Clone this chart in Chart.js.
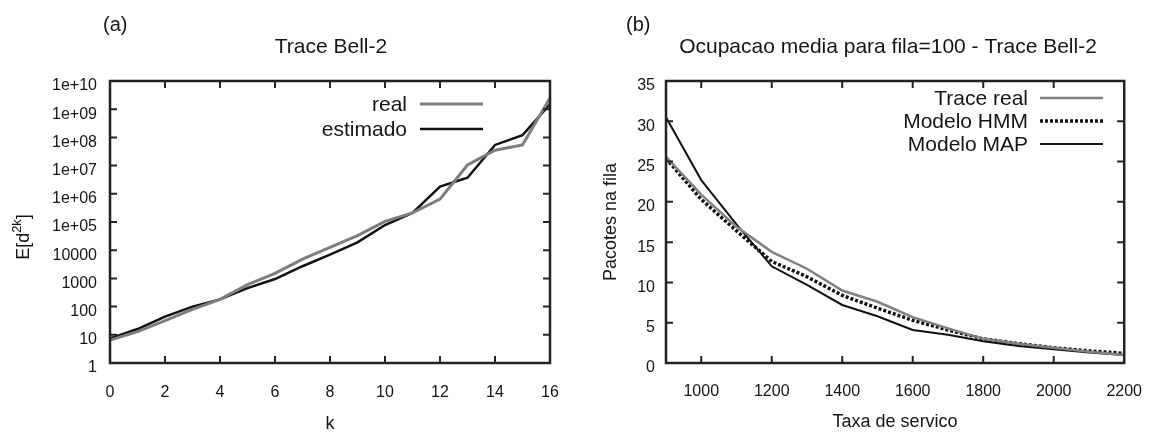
<!DOCTYPE html>
<html>
<head>
<meta charset="utf-8">
<script src="https://cdn.jsdelivr.net/npm/chart.js@4.4.1/dist/chart.umd.min.js"></script>
<style>
html, body { margin: 0; padding: 0; background: #fff; }
#wrap { position: relative; width: 1161px; height: 435px; overflow: hidden; }
#chartA { position: absolute; left: 0; top: 0; }
#chartB { position: absolute; left: 580px; top: 0; }
</style>
</head>
<body>
<div id="wrap">
  <canvas id="chartA" width="580" height="435"></canvas>
  <canvas id="chartB" width="581" height="435"></canvas>
</div>
<script>
// (a) moments E[d^2k] against k
const kValues = [0, 1, 2, 3, 4, 5, 6, 7, 8, 9, 10, 11, 12, 13, 14, 15, 16];
const momentReal = [6.5, 13, 32, 80, 180, 600, 1500, 4800, 12500, 33000, 105000, 210000, 650000, 1.05e7, 3.5e7, 5.4e7, 2.5e9];
const momentEstimado = [7.5, 16, 44, 100, 180, 450, 950, 2700, 7000, 19000, 78000, 210000, 1.8e6, 3.7e6, 5.4e7, 1.2e8, 1.5e9];
const kTicks = [0, 2, 4, 6, 8, 10, 12, 14, 16];
const momentTicks = [1, 10, 100, 1000, 10000, 1e5, 1e6, 1e7, 1e8, 1e9, 1e10];
const momentTickLabels = ["1", "10", "100", "1000", "10000", "1e+05", "1e+06", "1e+07", "1e+08", "1e+09", "1e+10"];

// (b) mean queue occupancy against service rate
const serviceRates = [900, 1000, 1100, 1200, 1300, 1400, 1500, 1600, 1700, 1800, 1900, 2000, 2100, 2200];
const queueReal = [25.6, 20.9, 16.9, 13.8, 11.7, 9.0, 7.6, 5.7, 4.3, 3.0, 2.4, 1.9, 1.4, 1.0];
const queueHMM = [25.4, 20.3, 16.4, 12.6, 10.7, 8.4, 6.8, 5.3, 4.1, 3.0, 2.4, 1.9, 1.5, 1.2];
const queueMAP = [30.5, 22.7, 17.2, 12.0, 9.7, 7.2, 5.8, 4.1, 3.5, 2.7, 2.1, 1.7, 1.3, 1.0];
const rateTicks = [1000, 1200, 1400, 1600, 1800, 2000, 2200];
const queueTicks = [0, 5, 10, 15, 20, 25, 30, 35];

const FONT = '"Liberation Sans", Arial, Helvetica, sans-serif';
const INK = "#151515";
Chart.defaults.font.family = FONT;
Chart.defaults.color = INK;

function pairs(xs, ys) {
    return xs.map((x, i) => ({ x: x, y: ys[i] }));
}

function fixedTicks(values) {
    return scale => { scale.ticks = values.map(v => ({ value: v })); };
}

// gnuplot-like frame, inward mirrored ticks, key and titles
const gnuplotLook = {
    id: "gnuplotLook",
    afterDatasetsDraw(chart, args, opts) {
        const { ctx, chartArea: a } = chart;
        const sx = chart.scales.x, sy = chart.scales.y;
        ctx.save();
        ctx.strokeStyle = "#222";
        ctx.lineWidth = 2;
        ctx.beginPath();
        sx.ticks.forEach(t => {
            const p = sx.getPixelForValue(t.value);
            if (p < a.left + 2 || p > a.right - 2) return;
            ctx.moveTo(p, a.bottom); ctx.lineTo(p, a.bottom - 7);
            ctx.moveTo(p, a.top); ctx.lineTo(p, a.top + 7);
        });
        sy.ticks.forEach(t => {
            const p = sy.getPixelForValue(t.value);
            if (p < a.top + 2 || p > a.bottom - 2) return;
            ctx.moveTo(a.left, p); ctx.lineTo(a.left + 7, p);
            ctx.moveTo(a.right, p); ctx.lineTo(a.right - 7, p);
        });
        ctx.stroke();
        ctx.lineWidth = 2.5;
        ctx.strokeRect(a.left, a.top, a.right - a.left, a.bottom - a.top);

        // key
        ctx.font = "21px " + FONT;
        ctx.fillStyle = INK;
        ctx.textAlign = "right";
        ctx.textBaseline = "middle";
        chart.data.datasets.forEach((ds, i) => {
            const y = opts.keyRows[i];
            ctx.fillText(ds.label, opts.keyTextRight, y + 1);
            ctx.save();
            ctx.strokeStyle = ds.borderColor;
            ctx.lineWidth = ds.borderWidth;
            ctx.setLineDash(ds.borderDash || []);
            ctx.beginPath();
            ctx.moveTo(opts.keyLine[0], y);
            ctx.lineTo(opts.keyLine[1], y);
            ctx.stroke();
            ctx.restore();
        });
        ctx.restore();
    },
    afterDraw(chart, args, opts) {
        const ctx = chart.ctx;
        ctx.save();
        ctx.fillStyle = INK;
        ctx.textBaseline = "middle";
        ctx.textAlign = "left";
        ctx.font = "20px " + FONT;
        ctx.fillText(opts.panel, opts.panelX, 25);
        ctx.textAlign = "center";
        ctx.font = "21px " + FONT;
        ctx.fillText(opts.title, opts.titleX, 47);
        if (opts.yLabel) {
            // E[d^2k] with a raised exponent
            ctx.translate(opts.yLabel.x, opts.yLabel.y);
            ctx.rotate(-Math.PI / 2);
            ctx.textAlign = "left";
            const big = "18px " + FONT, small = "13px " + FONT;
            ctx.font = big; const w1 = ctx.measureText("E[d").width; const w3 = ctx.measureText("]").width;
            ctx.font = small; const w2 = ctx.measureText("2k").width;
            let x = -(w1 + w2 + w3) / 2;
            ctx.font = big; ctx.fillText("E[d", x, 0); x += w1;
            ctx.font = small; ctx.fillText("2k", x, -7); x += w2;
            ctx.font = big; ctx.fillText("]", x, 0);
        }
        ctx.restore();
    }
};

const tickFont = { size: 16 };

new Chart(document.getElementById("chartA"), {
    type: "line",
    data: {
        datasets: [
            { label: "real", data: pairs(kValues, momentReal), borderColor: "#7d7d7d", borderWidth: 3 },
            { label: "estimado", data: pairs(kValues, momentEstimado), borderColor: "#111", borderWidth: 2.5 }
        ]
    },
    options: {
        responsive: false,
        animation: false,
        layout: { padding: { left: 0, top: 81, right: 30, bottom: 0 } },
        elements: { point: { radius: 0 }, line: { tension: 0 } },
        datasets: { line: { clip: 4 } },
        scales: {
            x: {
                type: "linear", min: 0, max: 16,
                afterBuildTicks: fixedTicks(kTicks),
                afterFit: s => { s.height = 72; },
                grid: { display: false, drawTicks: false },
                border: { display: false },
                ticks: { font: tickFont, padding: 20, callback: v => String(v) },
                title: { display: true, text: "k", font: { size: 18 }, padding: { top: 0, bottom: 0 } }
            },
            y: {
                type: "logarithmic", min: 1, max: 1e10,
                afterBuildTicks: fixedTicks(momentTicks),
                afterFit: s => { s.width = 110; },
                grid: { display: false, drawTicks: false },
                border: { display: false },
                ticks: { font: tickFont, padding: 13, labelOffset: 5, callback: (v, i) => momentTickLabels[i] }
            }
        },
        plugins: {
            legend: { display: false },
            tooltip: { enabled: false },
            gnuplotLook: {
                panel: "(a)", panelX: 103,
                title: "Trace Bell-2", titleX: 331,
                keyTextRight: 407, keyLine: [420, 483], keyRows: [104, 129],
                yLabel: { x: 24, y: 237 }
            }
        }
    },
    plugins: [gnuplotLook]
});

new Chart(document.getElementById("chartB"), {
    type: "line",
    data: {
        datasets: [
            { label: "Trace real", data: pairs(serviceRates, queueReal), borderColor: "#808080", borderWidth: 2.5 },
            { label: "Modelo HMM", data: pairs(serviceRates, queueHMM), borderColor: "#111", borderWidth: 3.5, borderDash: [3, 2] },
            { label: "Modelo MAP", data: pairs(serviceRates, queueMAP), borderColor: "#111", borderWidth: 2 }
        ]
    },
    options: {
        responsive: false,
        animation: false,
        layout: { padding: { left: 0, top: 81, right: 33, bottom: 0 } },
        elements: { point: { radius: 0 }, line: { tension: 0 } },
        datasets: { line: { clip: 4 } },
        scales: {
            x: {
                type: "linear", min: 900, max: 2200,
                afterBuildTicks: fixedTicks(rateTicks),
                afterFit: s => { s.height = 72; },
                grid: { display: false, drawTicks: false },
                border: { display: false },
                ticks: { font: tickFont, padding: 19, callback: v => String(v) },
                title: { display: true, text: "Taxa de servico", font: { size: 18 }, padding: { top: 0, bottom: 2 } }
            },
            y: {
                type: "linear", min: 0, max: 35,
                afterBuildTicks: fixedTicks(queueTicks),
                afterFit: s => { s.width = 86; },
                grid: { display: false, drawTicks: false },
                border: { display: false },
                ticks: { font: tickFont, padding: 11, labelOffset: 5, callback: v => String(v) },
                title: { display: true, text: "Pacotes na fila", font: { size: 18 }, padding: { top: 20, bottom: 0 } }
            }
        },
        plugins: {
            legend: { display: false },
            tooltip: { enabled: false },
            gnuplotLook: {
                panel: "(b)", panelX: 46,
                title: "Ocupacao media para fila=100 - Trace Bell-2", titleX: 308,
                keyTextRight: 448, keyLine: [460, 523], keyRows: [98, 121, 144]
            }
        }
    },
    plugins: [gnuplotLook]
});
</script>
</body>
</html>
